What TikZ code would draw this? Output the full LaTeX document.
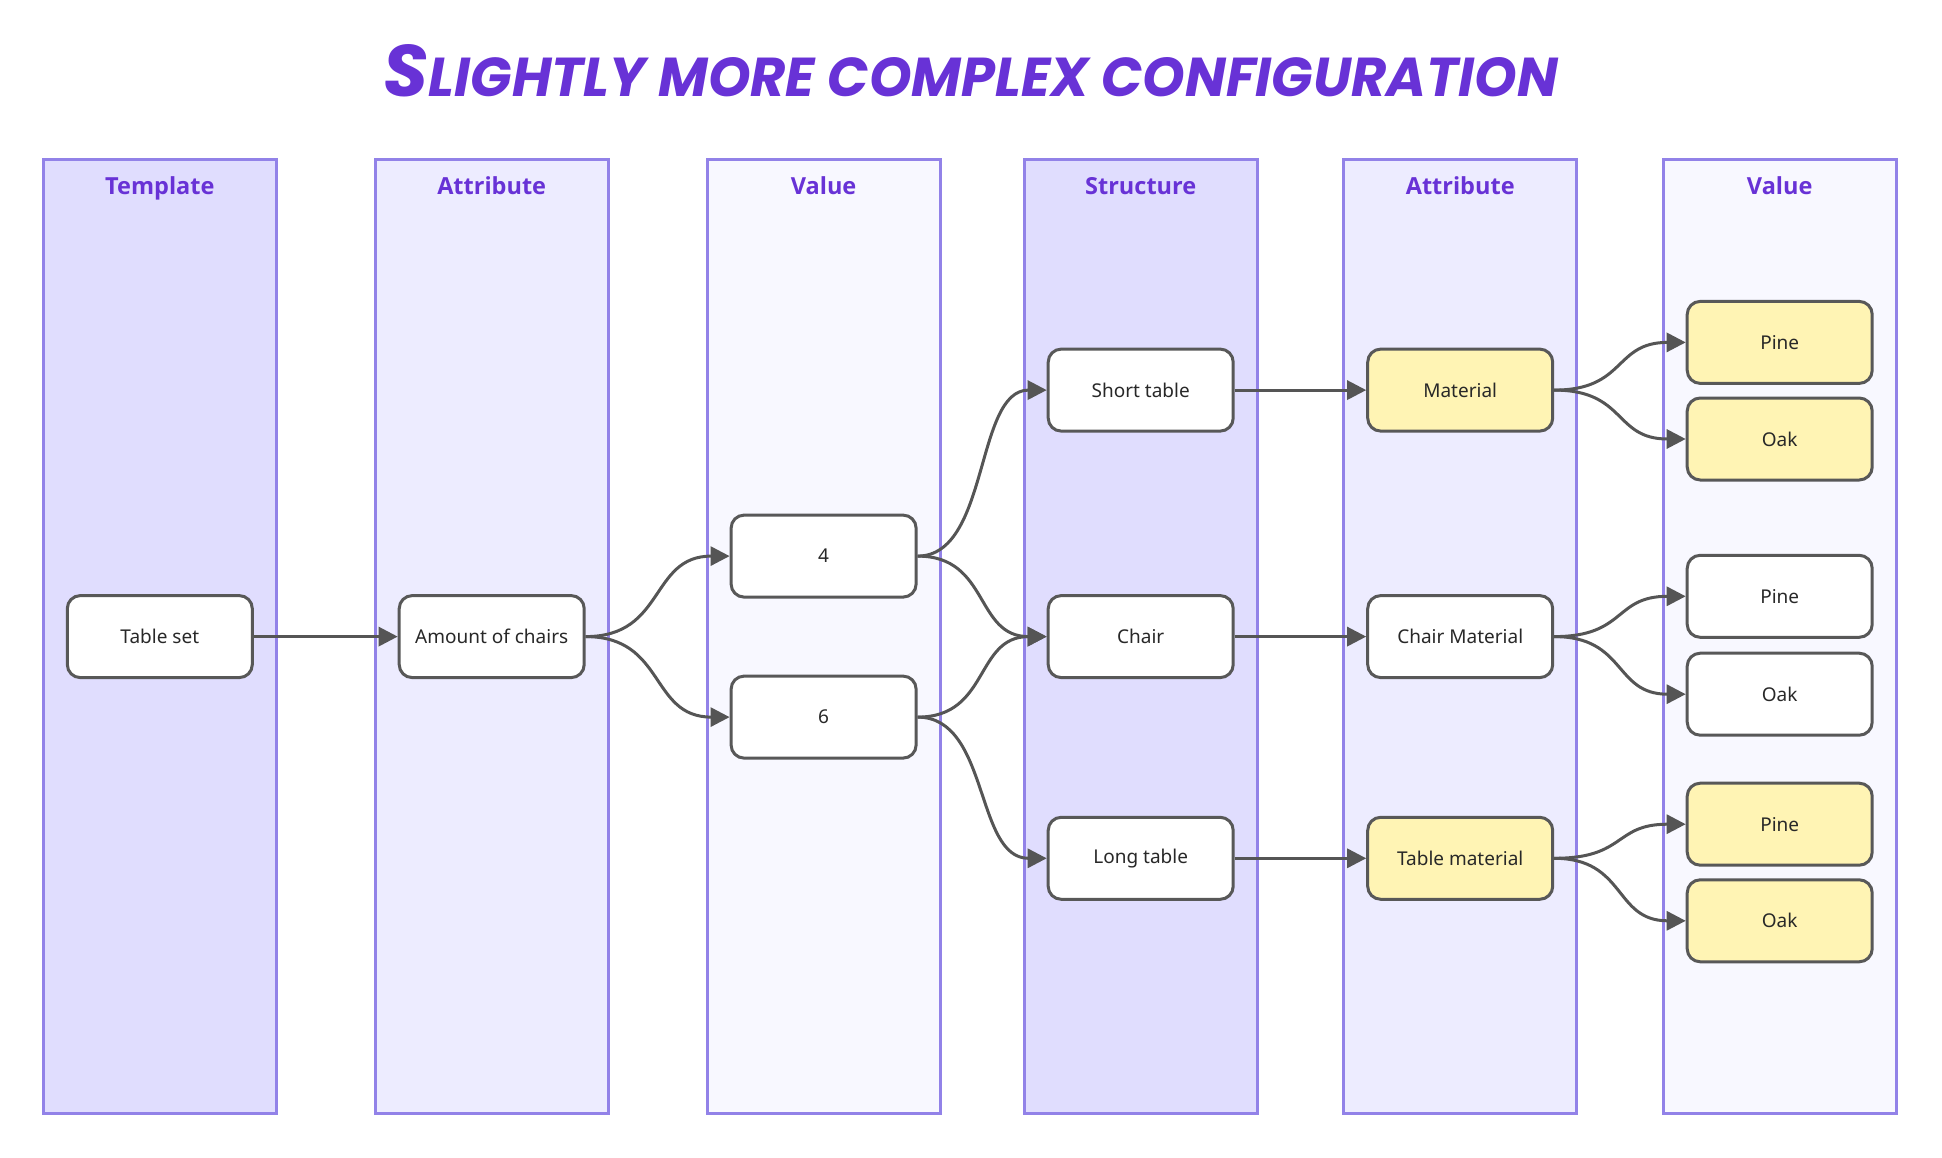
\documentclass[tikz,border=0pt]{standalone}
\usepackage{fontspec}
\setmainfont{Noto Sans}
\newfontfamily\titlefont{Poppins}
\newfontfamily\headfont{Open Sans}
\usetikzlibrary{arrows.meta}
\definecolor{laneA}{RGB}{224,221,254}
\definecolor{laneB}{RGB}{237,236,255}
\definecolor{laneC}{RGB}{248,248,255}
\definecolor{laneborder}{RGB}{146,130,232}
\definecolor{headtext}{RGB}{104,50,214}
\definecolor{nodeborder}{RGB}{88,88,88}
\definecolor{nodetext}{RGB}{40,40,40}
\definecolor{edgecol}{RGB}{85,85,85}
\definecolor{hiyellow}{RGB}{255,244,180}
\tikzset{
  lane/.style={draw=laneborder, line width=3pt, minimum width=233pt, minimum height=954pt, inner sep=0pt},
  lanehead/.style={text=headtext, font=\headfont\bfseries\fontsize{23.5}{26}\selectfont, inner sep=0pt, anchor=base},
  box/.style={draw=nodeborder, line width=3pt, fill=white, rounded corners=13pt,
    minimum width=185pt, minimum height=82pt, inner sep=0pt, text=nodetext,
    font=\fontsize{19}{22}\selectfont},
  ybox/.style={box, fill=hiyellow},
  edge/.style={draw=edgecol, line width=3pt, -{Triangle[length=19pt,width=19pt]}},
}
\begin{document}
\begin{tikzpicture}[x=1pt,y=-1pt]
\useasboundingbox (0,0) rectangle (1942,1158);
% title
\node[text=headtext, inner sep=0pt] (title) at (971,71)
  {\resizebox{1174pt}{52pt}{\titlefont\bfseries\itshape\fontsize{56}{60}\selectfont S\fontsize{42}{46}\selectfont LIGHTLY MORE COMPLEX CONFIGURATION}};
% lanes
\node[lane, fill=laneA] (L1) at (159.8,636.5) {};
\node[lane, fill=laneB] (L2) at (491.7,636.5) {};
\node[lane, fill=laneC] (L3) at (823.6,636.5) {};
\node[lane, fill=laneA] (L4) at (1140.7,636.5) {};
\node[lane, fill=laneB] (L5) at (1460.2,636.5) {};
\node[lane, fill=laneC] (L6) at (1779.7,636.5) {};
\node[lanehead] (H1) at (159.8,194.5) {Template};
\node[lanehead] (H2) at (491.7,194.5) {Attribute};
\node[lanehead] (H3) at (823.6,194.5) {Value};
\node[lanehead] (H4) at (1140.7,194.5) {Structure};
\node[lanehead] (H5) at (1460.2,194.5) {Attribute};
\node[lanehead] (H6) at (1779.7,194.5) {Value};
% nodes
\node[box] (tset) at (159.8,636.6) {Table set};
\node[box] (amount) at (491.7,636.6) {Amount of chairs};
\node[box] (four) at (823.6,556.1) {4};
\node[box] (six) at (823.6,717.1) {6};
\node[box] (short) at (1140.7,390.1) {Short table};
\node[box] (chair) at (1140.7,636.6) {Chair};
\node[box] (long) at (1140.7,858.3) {Long table};
\node[ybox] (mat) at (1460.2,390.1) {Material};
\node[box] (cmat) at (1460.2,636.6) {Chair Material};
\node[ybox] (tmat) at (1460.2,858.3) {Table material};
\node[ybox] (pine1) at (1779.7,342.4) {Pine};
\node[ybox] (oak1) at (1779.7,439) {Oak};
\node[box] (pine2) at (1779.7,596.3) {Pine};
\node[box] (oak2) at (1779.7,694.2) {Oak};
\node[ybox] (pine3) at (1779.7,824.2) {Pine};
\node[ybox] (oak3) at (1779.7,920.8) {Oak};
% edges
\draw[edge] (tset.east) -- (amount.west);
\draw[edge] (amount.east) .. controls +(80,0) and +(-80,0) .. (four.west);
\draw[edge] (amount.east) .. controls +(80,0) and +(-80,0) .. (six.west);
\draw[edge] (four.east) .. controls +(72,0) and +(-72,0) .. (short.west);
\draw[edge] (four.east) .. controls +(72,0) and +(-72,0) .. (chair.west);
\draw[edge] (six.east) .. controls +(72,0) and +(-72,0) .. (chair.west);
\draw[edge] (six.east) .. controls +(72,0) and +(-72,0) .. (long.west);
\draw[edge] (short.east) -- (mat.west);
\draw[edge] (chair.east) -- (cmat.west);
\draw[edge] (long.east) -- (tmat.west);
\draw[edge] (mat.east) .. controls +(72,0) and +(-72,0) .. (pine1.west);
\draw[edge] (mat.east) .. controls +(72,0) and +(-72,0) .. (oak1.west);
\draw[edge] (cmat.east) .. controls +(72,0) and +(-72,0) .. (pine2.west);
\draw[edge] (cmat.east) .. controls +(72,0) and +(-72,0) .. (oak2.west);
\draw[edge] (tmat.east) .. controls +(72,0) and +(-72,0) .. (pine3.west);
\draw[edge] (tmat.east) .. controls +(72,0) and +(-72,0) .. (oak3.west);
\end{tikzpicture}
\end{document}
